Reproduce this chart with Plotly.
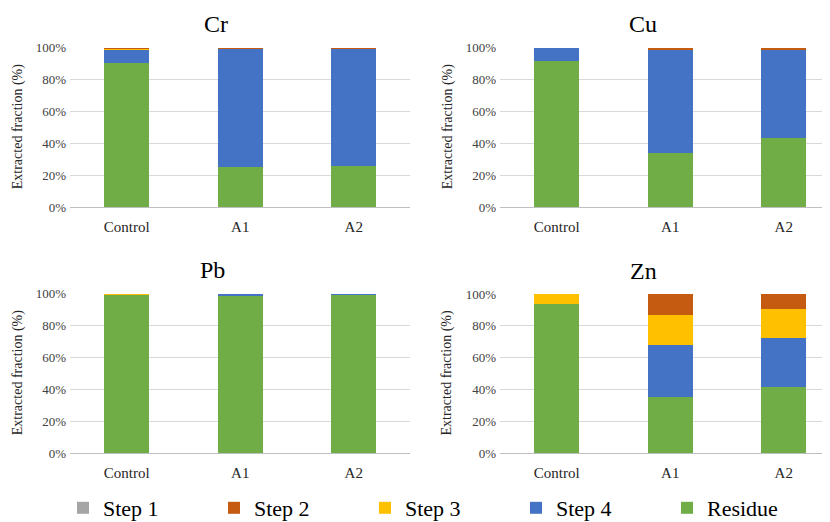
import plotly.graph_objects as go

categories = ["Control", "A1", "A2"]
metals = ["Cr", "Cu", "Pb", "Zn"]

# values (%) per metal: [Control, A1, A2]
step1 = {"Cr": [0, 0, 0], "Cu": [0, 0, 0], "Pb": [0, 0, 0], "Zn": [0, 0, 0]}
step2 = {"Cr": [0.3, 0.5, 0.5], "Cu": [0, 1.0, 1.5], "Pb": [0, 0, 0], "Zn": [0, 13.0, 9.5]}
step3 = {"Cr": [0.7, 0, 0], "Cu": [0, 0, 0], "Pb": [0.5, 0, 0], "Zn": [6.0, 19.0, 18.0]}
step4 = {"Cr": [8.5, 74.5, 74.0], "Cu": [8.5, 65.0, 55.0], "Pb": [0, 1.0, 0.5], "Zn": [0, 32.5, 31.0]}
residue = {"Cr": [90.5, 25.0, 25.5], "Cu": [91.5, 34.0, 43.5], "Pb": [99.5, 99.0, 99.5], "Zn": [94.0, 35.5, 41.5]}

series = [
    ("Residue", residue, "#70AD47"),
    ("Step 4", step4, "#4472C4"),
    ("Step 3", step3, "#FFC000"),
    ("Step 2", step2, "#C55A11"),
    ("Step 1", step1, "#A5A5A5"),
]

# the page has an 8px body margin, so the figure is sized/offset to fit the window
OFF = 8
W, H = 830 - OFF, 522 - OFF


def px(x):
    return (x - OFF) / W


def py(y):
    return 1 - (y - OFF) / H


# panel layout in window pixels: (x_left, x_right, y_top(100%), y_bottom(0%))
panels = {
    "Cr": (70, 410, 47.5, 207),
    "Cu": (500, 830, 47.5, 207),
    "Pb": (70, 410, 293.5, 453),
    "Zn": (500, 830, 294, 453),
}
title_pos = {"Cr": (216, 24), "Cu": (643, 24), "Pb": (212, 270), "Zn": (643, 271)}
ytitle_x = {"Cr": 18, "Cu": 448, "Pb": 18, "Zn": 446}
cat_px = 113.5

fig = go.Figure()
font_family = "Liberation Serif, serif"

annotations = []
for i, m in enumerate(metals):
    ax = "" if i == 0 else str(i + 1)
    for name, data, color in series:
        fig.add_trace(go.Bar(
            x=categories, y=data[m], name=name, marker=dict(color=color, line=dict(width=0)),
            width=0.4, xaxis="x" + ax, yaxis="y" + ax, showlegend=(i == 0),
            legendgroup=name,
        ))
    xl, xr, yt, yb = panels[m]
    ncat = (xr - xl) / cat_px
    fig.layout["xaxis" + ax] = dict(
        domain=[px(xl), min(1.0, px(xr))], anchor="y" + ax, range=[-0.5, -0.5 + ncat],
        showline=True, linecolor="#BFBFBF", linewidth=1, ticks="",
        tickfont=dict(family=font_family, size=15, color="#262626"),
        showgrid=False, zeroline=False, ticklabelstandoff=6,
    )
    fig.layout["yaxis" + ax] = dict(
        domain=[py(yb), py(yt)], anchor="x" + ax, range=[0, 100],
        tickvals=[0, 20, 40, 60, 80, 100], ticktext=["0%", "20%", "40%", "60%", "80%", "100%"],
        showgrid=True, gridcolor="#D9D9D9", gridwidth=1, zeroline=False, showline=False,
        tickfont=dict(family=font_family, size=13, color="#404040"), ticklabelstandoff=3,
    )
    tx, ty = title_pos[m]
    annotations.append(dict(text=m, x=px(tx), y=py(ty), xref="paper", yref="paper",
                            showarrow=False, xanchor="center", yanchor="middle",
                            font=dict(family=font_family, size=24, color="#000000")))
    annotations.append(dict(text="Extracted fraction (%)", x=px(ytitle_x[m]),
                            y=py((yt + yb) / 2), xref="paper", yref="paper",
                            showarrow=False, textangle=-90, xanchor="center", yanchor="middle",
                            font=dict(family=font_family, size=14, color="#262626")))

fig.update_layout(
    barmode="stack",
    width=W, height=H,
    margin=dict(l=0, r=0, t=0, b=0, autoexpand=False),
    paper_bgcolor="white", plot_bgcolor="white",
    font=dict(family=font_family),
    annotations=annotations,
    showlegend=True,
    legend=dict(orientation="h", traceorder="reversed", x=px(63), y=py(508),
                xanchor="left", yanchor="middle",
                entrywidth=106, entrywidthmode="pixels", itemwidth=30,
                font=dict(family=font_family, size=22, color="#000000"),
                bgcolor="rgba(0,0,0,0)"),
    bargap=0.6,
)

fig.write_html("out.html")
